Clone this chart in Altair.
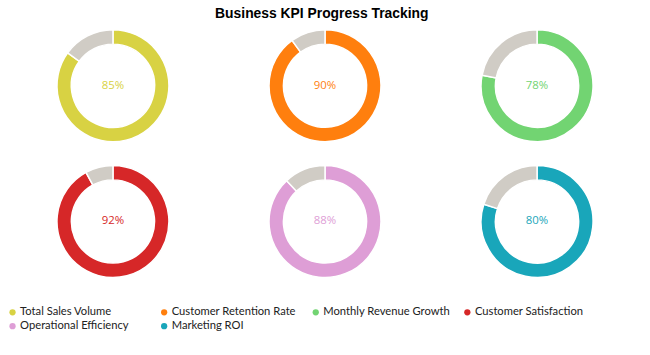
import altair as alt
import pandas as pd

kpis = ["Total Sales Volume", "Customer Retention Rate", "Monthly Revenue Growth",
        "Customer Satisfaction", "Operational Efficiency", "Marketing ROI"]
values = [85, 90, 78, 92, 88, 80]
colors = ["#d8d243", "#ff7f0e", "#72d472", "#d62728", "#de9ed6", "#19a6ba"]
rest_color = "#d0ccc5"

rows = []
for k, v in zip(kpis, values):
    rows.append({"kpi": k, "part": "done", "start": 0, "end": v, "label": f"{v}%"})
    rows.append({"kpi": k, "part": "rest", "start": v, "end": 100, "label": ""})
df = pd.DataFrame(rows)

W, H = 200, 120
theta = alt.Theta("start:Q", scale=alt.Scale(domain=[0, 100]))
cscale = alt.Scale(domain=kpis, range=colors)

legend = alt.Legend(
    title=None, orient="none", legendX=-7, legendY=283, direction="horizontal",
    columns=4, gridAlign="all", columnPadding=11, rowPadding=2,
    symbolType="circle", symbolSize=40, symbolStrokeWidth=0,
    labelFont="Lato", labelFontSize=11.3, labelColor="#222222",
    labelOffset=2, labelLimit=200,
)


def panel(k, show_legend):
    base = alt.Chart(df).transform_filter(alt.datum.kpi == k)
    color = alt.Color("kpi:N", sort=kpis, scale=cscale,
                      legend=legend if show_legend else None)
    done = base.transform_filter(alt.datum.part == "done").mark_arc(
        innerRadius=42, outerRadius=56.5, stroke="white", strokeWidth=1.5
    ).encode(theta=theta, theta2="end:Q", color=color)
    rest = base.transform_filter(alt.datum.part == "rest").mark_arc(
        innerRadius=42, outerRadius=56.5, stroke="white", strokeWidth=1.5
    ).encode(theta=theta, theta2="end:Q", color=alt.value(rest_color))
    text = base.transform_filter(alt.datum.part == "done").mark_text(
        font="Open Sans", fontSize=11.5, align="center", baseline="middle"
    ).encode(
        x=alt.value(W / 2), y=alt.value(H / 2), text="label:N",
        color=alt.Color("kpi:N", sort=kpis, scale=cscale, legend=None),
    )
    return alt.layer(done, rest, text).properties(width=W, height=H)


row1 = alt.hconcat(*[panel(k, i == 0) for i, k in enumerate(kpis[:3])], spacing=12)
row2 = alt.hconcat(*[panel(k, False) for k in kpis[3:]], spacing=12)

chart = alt.vconcat(row1, row2, spacing=15).properties(
    title=alt.TitleParams(
        "Business KPI Progress Tracking", font="Liberation Sans", fontSize=14,
        fontWeight="bold", color="#000000", anchor="middle", offset=5,
    ),
    padding={"left": 7, "top": 5, "right": 13, "bottom": 0},
).configure_view(stroke="transparent")

chart.save("out.html", embed_options={"renderer": "svg", "actions": False})
